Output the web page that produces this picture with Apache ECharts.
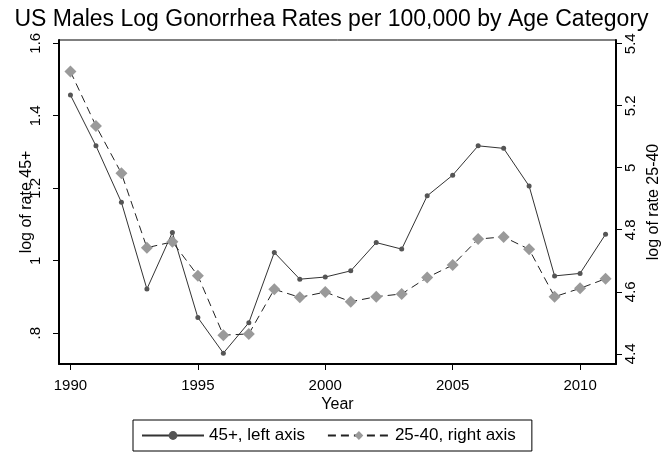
<!DOCTYPE html>
<html>
<head>
<meta charset="utf-8">
<script src="https://cdn.jsdelivr.net/npm/echarts@6/dist/echarts.min.js"></script>
<style>
html,body{margin:0;padding:0;background:#fff;}
#main{width:663px;height:454px;}
</style>
</head>
<body>
<div id="main"></div>
<script>
// values
var years = [1990,1991,1992,1993,1994,1995,1996,1997,1998,1999,2000,2001,2002,2003,2004,2005,2006,2007,2008,2009,2010,2011];
var rate45 = [1.457,1.317,1.161,0.922,1.078,0.843,0.745,0.829,1.023,0.949,0.955,0.972,1.050,1.032,1.179,1.236,1.317,1.310,1.206,0.958,0.965,1.073];
var rate2540 = [5.310,5.135,4.982,4.742,4.761,4.652,4.460,4.464,4.608,4.582,4.599,4.568,4.584,4.593,4.646,4.686,4.770,4.777,4.737,4.584,4.611,4.642];
var yearTicks = [1990,1995,2000,2005,2010];
var leftTicks = [0.8,1,1.2,1.4,1.6];
var rightTicks = [4.4,4.6,4.8,5,5.2,5.4];

var gonoChart = {
	font:'Liberation Sans, Arial, sans-serif',

	pairs:function(xs,ys){
		var out = [];
		for (var i = 0; i < xs.length; i++) {
			out.push([xs[i], ys[i]]);
		}
		return out;
	},

	leftLabel:function(v){
		// stata style: .8 instead of 0.8
		var s = String(Math.round(v*10)/10);
		if(s.indexOf('0.') == 0){ s = s.substr(1); }
		return s;
	},

	yAxisBase:function(min,max,ticks,pos,name,margin,gap,fmt){
		return {
			type:'value',
			position:pos,
			min:min,
			max:max,
			name:name,
			nameLocation:'middle',
			nameRotate:90,
			nameGap:gap,
			nameMoveOverlap:false,
			nameTextStyle:{color:'#000',fontSize:16,fontFamily:gonoChart.font},
			axisLine:{show:true,lineStyle:{color:'#000',width:2}},
			axisTick:{show:true,length:6,customValues:ticks,lineStyle:{color:'#000',width:1}},
			axisLabel:{show:true,rotate:90,margin:margin,customValues:ticks,color:'#000',fontSize:15,fontFamily:gonoChart.font,formatter:fmt},
			splitLine:{show:false}
		};
	},

	option:function(){
		var option = {
			backgroundColor:'#fff',
			animation:false,
			title:{
				text:'US Males Log Gonorrhea Rates per 100,000 by Age Category',
				left:'center',
				top:3,
				textStyle:{color:'#000',fontSize:23,fontWeight:'normal',fontFamily:gonoChart.font}
			},
			grid:{left:59,top:40,width:557,height:324,show:true,borderColor:'#000',borderWidth:1,backgroundColor:'#fff',outerBoundsMode:'none',containLabel:false},
			legend:{
				left:133,
				top:420,
				padding:[7,16,7,8],
				itemWidth:62,
				itemHeight:11,
				itemGap:22,
				borderColor:'#000',
				borderWidth:1,
				selectedMode:false,
				textStyle:{color:'#000',fontSize:17,fontFamily:gonoChart.font},
				data:['45+, left axis','25-40, right axis']
			},
			xAxis:{
				type:'value',
				min:1989.55,
				max:2011.41,
				name:'Year',
				nameLocation:'middle',
				nameGap:33,
				nameMoveOverlap:false,
				nameTextStyle:{color:'#000',fontSize:16,fontFamily:gonoChart.font},
				axisLine:{show:true,lineStyle:{color:'#000',width:2}},
				axisTick:{show:true,length:6,customValues:yearTicks,lineStyle:{color:'#000',width:1}},
				axisLabel:{show:true,margin:14,customValues:yearTicks,color:'#000',fontSize:15,fontFamily:gonoChart.font,formatter:function(v){return String(v);}},
				splitLine:{show:false}
			},
			yAxis:[
				gonoChart.yAxisBase(0.715,1.609,leftTicks,'left','log of rate 45+',16,24,gonoChart.leftLabel),
				gonoChart.yAxisBase(4.367,5.412,rightTicks,'right','log of rate 25-40',7,30,function(v){return String(Math.round(v*10)/10);})
			],
			series:[{
				name:'45+, left axis',
				type:'line',
				yAxisIndex:0,
				symbol:'circle',
				symbolSize:5,
				itemStyle:{color:'#555'},
				lineStyle:{color:'#333',width:1},
				data:gonoChart.pairs(years,rate45)
			},{
				name:'25-40, right axis',
				type:'line',
				yAxisIndex:1,
				symbol:'diamond',
				symbolSize:12,
				itemStyle:{color:'#9a9a9a'},
				lineStyle:{color:'#222',width:1,type:[8,5]},
				data:gonoChart.pairs(years,rate2540)
			}]
		};
		return option;
	},

	init:function(){
		var myChart = echarts.init(document.getElementById('main'),null,{renderer:'canvas'});
		myChart.setOption(gonoChart.option(), true);
	}
};

gonoChart.init();
</script>
</body>
</html>
